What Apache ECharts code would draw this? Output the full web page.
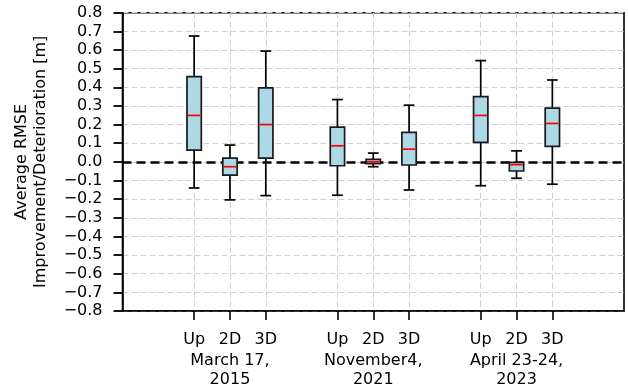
<!DOCTYPE html>
<html>
<head>
<meta charset="utf-8">
<script src="https://cdn.jsdelivr.net/npm/echarts@6/dist/echarts.min.js"></script>
<style>
html,body{margin:0;padding:0;background:#fff;}
#chart{width:628px;height:389px;}
</style>
</head>
<body>
<div id="chart"></div>
<script>
// ---- data ----
const positions = [1, 2, 3, 5, 6, 7, 9, 10, 11];
const methods = ['Up', '2D', '3D', 'Up', '2D', '3D', 'Up', '2D', '3D'];
const groupLabels = ['March 17,\n2015', 'November4,\n2021', 'April 23-24,\n2023'];
const groupCenters = [2, 6, 10];
const whiskerLow  = [-0.140, -0.204, -0.181, -0.179, -0.026, -0.151, -0.128, -0.088, -0.120];
const q1          = [ 0.063, -0.071,  0.020, -0.021, -0.010, -0.017,  0.104, -0.049,  0.083];
const median      = [ 0.249, -0.026,  0.200,  0.086,  0.000,  0.068,  0.249, -0.015,  0.206];
const q3          = [ 0.457,  0.020,  0.397,  0.186,  0.013,  0.158,  0.350, -0.003,  0.288];
const whiskerHigh = [ 0.675,  0.090,  0.594,  0.334,  0.047,  0.304,  0.543,  0.059,  0.439];

const boxData = positions.map((p, i) => [p, whiskerLow[i], q1[i], median[i], q3[i], whiskerHigh[i]]);
const FONT = 'DejaVu Sans';
const BOX_W = 0.4, CAP_W = 0.3;

function renderBox(params, api) {
  const x = api.value(0);
  const pLow = api.coord([x, api.value(1)]);
  const pQ1 = api.coord([x, api.value(2)]);
  const pMed = api.coord([x, api.value(3)]);
  const pQ3 = api.coord([x, api.value(4)]);
  const pHigh = api.coord([x, api.value(5)]);
  const bw = api.size([BOX_W, 0])[0];
  const cw = api.size([CAP_W, 0])[0];
  const cx = pMed[0];
  const lineStyle = {stroke: '#000', lineWidth: 1.7, fill: null};
  return {
    type: 'group',
    children: [
      {type: 'line', shape: {x1: cx, y1: pQ3[1], x2: cx, y2: pHigh[1]}, style: lineStyle},
      {type: 'line', shape: {x1: cx, y1: pQ1[1], x2: cx, y2: pLow[1]}, style: lineStyle},
      {type: 'line', shape: {x1: cx - cw/2, y1: pHigh[1], x2: cx + cw/2, y2: pHigh[1]}, style: lineStyle},
      {type: 'line', shape: {x1: cx - cw/2, y1: pLow[1], x2: cx + cw/2, y2: pLow[1]}, style: lineStyle},
      {type: 'rect', shape: {x: cx - bw/2, y: pQ3[1], width: bw, height: pQ1[1] - pQ3[1]},
        style: {fill: '#add8e6', stroke: '#1a1a1a', lineWidth: 1.7}},
      {type: 'line', shape: {x1: cx - bw/2 + 0.9, y1: pMed[1], x2: cx + bw/2 - 0.9, y2: pMed[1]},
        style: {stroke: '#ff0000', lineWidth: 1.7}}
    ]
  };
}

const chart = echarts.init(document.getElementById('chart'), null, {renderer: 'canvas'});
chart.setOption({
  animation: false,
  backgroundColor: '#fff',
  grid: {left: 122.5, right: 4, top: 12.7, bottom: 77.3, show: true, borderColor: '#000', borderWidth: 1.6, backgroundColor: 'transparent'},
  xAxis: [{
    type: 'value', min: -1, max: 13,
    axisLine: {show: true, onZero: false, lineStyle: {color: '#000', width: 1.6}},
    axisTick: {show: true, customValues: positions, length: 9, lineStyle: {color: '#000', width: 1.6}},
    axisLabel: {
      customValues: positions, margin: 19, showMinLabel: true, showMaxLabel: true, hideOverlap: false,
      fontFamily: FONT, fontSize: 16, color: '#000', lineHeight: 19,
      formatter: function (v) {
        const i = positions.indexOf(Math.round(v));
        return i < 0 ? '' : methods[i];
      }
    },
    splitLine: {show: true, lineStyle: {color: '#cfcfcf', width: 1, type: [6, 3]}}
  }, {
    type: 'value', min: -1, max: 13, position: 'bottom', offset: 0,
    axisLine: {show: false}, axisTick: {show: false}, splitLine: {show: false},
    axisLabel: {
      customValues: groupCenters, margin: 40, showMinLabel: true, showMaxLabel: true, hideOverlap: false,
      fontFamily: FONT, fontSize: 16, color: '#000', lineHeight: 19,
      formatter: function (v) {
        const g = groupCenters.indexOf(Math.round(v));
        return g < 0 ? '' : groupLabels[g];
      }
    }
  }],
  yAxis: {
    type: 'value', min: -0.8, max: 0.8, interval: 0.1,
    name: 'Average RMSE\nImprovement/Deterioration [m]',
    nameLocation: 'middle', nameRotate: 90, nameGap: 72,
    nameTextStyle: {fontFamily: FONT, fontSize: 16, color: '#000', lineHeight: 19, align: 'center'},
    axisLine: {show: true, onZero: false, lineStyle: {color: '#000', width: 1.6}},
    axisTick: {show: true, length: 9, lineStyle: {color: '#000', width: 1.8}},
    axisLabel: {
      margin: 20, fontFamily: FONT, fontSize: 16, color: '#000', showMinLabel: true, showMaxLabel: true,
      formatter: function (v) {
        const t = Math.abs(v).toFixed(1);
        return (v < -1e-9 ? '\u2212' : '') + t;
      }
    },
    splitLine: {show: true, lineStyle: {color: '#cfcfcf', width: 1, type: [6, 3]}}
  },
  series: [
    {
      type: 'line', data: [], z: 1, silent: true,
      markLine: {
        silent: true, symbol: 'none', label: {show: false},
        lineStyle: {color: '#000', width: 2.6, type: [9, 5]},
        data: [{yAxis: 0}]
      }
    },
    {
      type: 'custom', z: 5, data: boxData, renderItem: renderBox,
      encode: {x: 0, y: [1, 2, 3, 4, 5]}
    }
  ]
});
</script>
</body>
</html>
